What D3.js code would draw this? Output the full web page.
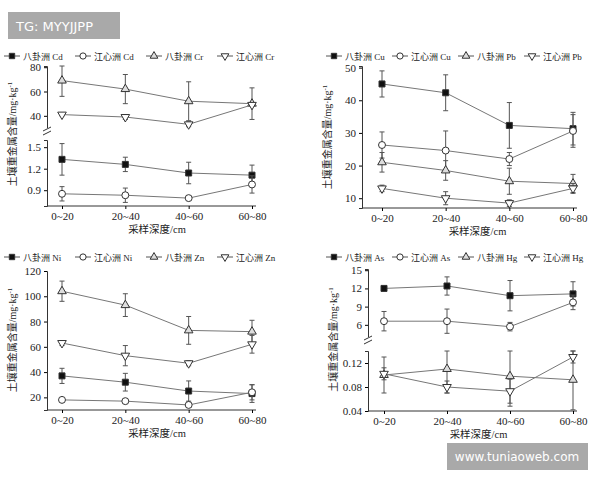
<!DOCTYPE html><html><head><meta charset="utf-8"><script src="https://cdn.jsdelivr.net/npm/d3@7"></script>
<style>body{margin:0;background:#fff}text{font-family:"Liberation Serif","Noto Sans CJK SC",serif;fill:#222}</style></head><body>
<svg id="c" width="600" height="480"></svg>
<script>
const categories=["0~20","20~40","40~60","60~80"];
// panel 1
const cdB=[1.33,1.26,1.14,1.11], cdBe=[0.22,0.10,0.15,0.14];
const cdJ=[0.85,0.83,0.79,0.98], cdJe=[0.10,0.10,0.02,0.12];
const crB=[69,62,52,50], crBe=[13,12,16,13];
const crJ=[41,39,33,49], crJe=[1,2,2,1];
// panel 2
const cuB=[45,42.3,32.3,31.3], cuBe=[4,5.5,7,5];
const cuJ=[26.3,24.6,22,30.6], cuJe=[4,6,2,5];
const pbB=[21,18.5,15.2,14.5], pbBe=[3,3,4,2.8];
const pbJ=[13,10,8.5,13], pbJe=[1,2,1,1.5];
// panel 3
const niB=[37,32,25,23], niBe=[6,7,8,7];
const niJ=[18,17,14,24], niJe=[1,1,2,6];
const znB=[104,93,73,72], znBe=[8,9,11,9];
const znJ=[63,53,47,62], znJe=[2,8,2,7];
// panel 4
const asB=[12,12.4,10.8,11.1], asBe=[0.4,1.5,2.5,2];
const asJ=[6.6,6.6,5.7,9.7], asJe=[1.6,2,0.7,1.2];
const hgB=[0.100,0.110,0.098,0.092], hgBe=[0.03,0.04,0.05,0.05];
const hgJ=[0.102,0.080,0.073,0.130], hgJe=[0.01,0.01,0.02,0.01];

const svg=d3.select("#c");
const sym={sq:d3.symbolSquare,ci:d3.symbolCircle,tu:d3.symbolTriangle,td:d3.symbolTriangle};
const fills={sq:"#111",ci:"#fff",tu:"#ddd",td:"#fff"};
function marker(g,t,x,y,k){
  k=k||1;
  g.append("path").attr("d",d3.symbol(sym[t],k*(t=="sq"?36:t=="ci"?38:32))()).attr("transform",`translate(${x},${y})${t=="td"?" rotate(180)":""}`)
   .attr("fill",fills[t]).attr("stroke","#333").attr("stroke-width",1);
}
function panel(o){
  const g=svg.append("g");
  const x=d3.scalePoint().domain(categories).range(o.xr);
  o.segs.forEach(s=>{
    const y=d3.scaleLinear().domain(s.dom).range(s.rng);
    g.append("g").attr("transform",`translate(${o.ax},0)`).call(d3.axisLeft(y).tickValues(s.ticks).tickSize(3).tickFormat(s.fmt||d3.format("")))
     .call(a=>{a.select(".domain").attr("stroke","#333");a.selectAll("text").style("font-size","11px").attr("fill","#333");});
    s.series.forEach(se=>{
      const sg=g.append("g");
      sg.append("path").datum(se.v).attr("fill","none").attr("stroke","#777").attr("stroke-width",1)
        .attr("d",d3.line().x((d,i)=>x(categories[i])).y(d=>y(d)));
      se.v.forEach((d,i)=>{
        const cx=x(categories[i]);
        const lo=Math.max(d-se.e[i],s.dom[0]),hi=Math.min(d+se.e[i],s.dom[1]);
        sg.append("line").attr("x1",cx).attr("x2",cx).attr("y1",y(lo)).attr("y2",y(hi)).attr("stroke","#555");
        [lo,hi].forEach(vv=>sg.append("line").attr("x1",cx-2.5).attr("x2",cx+2.5).attr("y1",y(vv)).attr("y2",y(vv)).attr("stroke","#555"));
      });
      se.v.forEach((d,i)=>marker(sg,se.t,x(categories[i]),y(d)));
    });
  });
  if(o.brk){g.append("rect").attr("x",o.ax-4).attr("y",o.brk-3).attr("width",8).attr("height",6).attr("fill","#fff");
    [-2,2].forEach(dd=>g.append("line").attr("x1",o.ax-4).attr("x2",o.ax+4).attr("y1",o.brk+dd+2).attr("y2",o.brk+dd-2).attr("stroke","#333"));}
  g.append("g").attr("transform",`translate(0,${o.bot})`).call(d3.axisBottom(x).tickSize(3).tickSizeOuter(0))
   .call(a=>{a.select(".domain").attr("d",`M${o.ax},0H${o.xr[1]+4}`).attr("stroke","#333");a.selectAll("text").style("font-size","11px").attr("fill","#333");});
  g.append("text").attr("x",(o.xr[0]+o.xr[1])/2).attr("y",o.bot+27).attr("text-anchor","middle").style("font-size","10.5px").text("采样深度/cm");
  g.append("text").attr("transform",`translate(${o.ax-31},${(o.top+o.bot)/2}) rotate(-90)`).attr("text-anchor","middle").style("font-size","10px")
   .text("土壤重金属含量/mg·kg").append("tspan").attr("dy",-4).style("font-size","7px").text("-1");
  o.leg.forEach((l,i)=>{
    const lx=o.lx+i*o.lstep, ly=o.ly;
    g.append("line").attr("x1",lx).attr("x2",lx+16).attr("y1",ly).attr("y2",ly).attr("stroke","#555");
    marker(g,l[1],lx+8,ly,0.8);
    g.append("text").attr("x",lx+19).attr("y",ly+3.5).style("font-size","9px").text(l[0]);
  });
}
panel({ax:47,xr:[62,252],bot:206,top:62,brk:131,lx:4,lstep:71,ly:56,
  leg:[["八卦洲 Cd","sq"],["江心洲 Cd","ci"],["八卦洲 Cr","tu"],["江心洲 Cr","td"]],
  segs:[{dom:[27.5,81],rng:[131,66],ticks:[40,60,80],series:[{v:crB,e:crBe,t:"tu"},{v:crJ,e:crJe,t:"td"}]},
        {dom:[0.68,1.6],rng:[206,140],ticks:[0.9,1.2,1.5],fmt:d3.format(".1f"),series:[{v:cdB,e:cdBe,t:"sq"},{v:cdJ,e:cdJe,t:"ci"}]}]});
panel({ax:362,xr:[382,573],bot:208,top:66,lx:326,lstep:66,ly:56,
  leg:[["八卦洲 Cu","sq"],["江心洲 Cu","ci"],["八卦洲 Pb","tu"],["江心洲 Pb","td"]],
  segs:[{dom:[7,50.5],rng:[208,66],ticks:[10,20,30,40,50],series:[{v:cuB,e:cuBe,t:"sq"},{v:cuJ,e:cuJe,t:"ci"},{v:pbB,e:pbBe,t:"tu"},{v:pbJ,e:pbJe,t:"td"}]}]});
panel({ax:47,xr:[62,252],bot:410,top:270,lx:4,lstep:71,ly:257,
  leg:[["八卦洲 Ni","sq"],["江心洲 Ni","ci"],["八卦洲 Zn","tu"],["江心洲 Zn","td"]],
  segs:[{dom:[10,120],rng:[410,271],ticks:[20,40,60,80,100,120],series:[{v:znB,e:znBe,t:"tu"},{v:znJ,e:znJe,t:"td"},{v:niB,e:niBe,t:"sq"},{v:niJ,e:niJe,t:"ci"}]}]});
panel({ax:368,xr:[384,573],bot:411,top:268,brk:340,lx:326,lstep:66,ly:257,
  leg:[["八卦洲 As","sq"],["江心洲 As","ci"],["八卦洲 Hg","tu"],["江心洲 Hg","td"]],
  segs:[{dom:[3.5,15.2],rng:[340,269],ticks:[6,9,12,15],series:[{v:asB,e:asBe,t:"sq"},{v:asJ,e:asJe,t:"ci"}]},
        {dom:[0.04,0.14],rng:[411,351],ticks:[0.04,0.08,0.12],fmt:d3.format(".2f"),series:[{v:hgB,e:hgBe,t:"tu"},{v:hgJ,e:hgJe,t:"td"}]}]});
svg.append("rect").attr("x",8).attr("y",12).attr("width",112).attr("height",27).attr("fill","#a9a9a9");
svg.append("text").attr("x",16).attr("y",31).style("font-family","DejaVu Sans").style("font-size","13px").style("fill","#fff").text("TG: MYYJJPP");
svg.append("rect").attr("x",447).attr("y",443).attr("width",141).attr("height",27).attr("fill","#a9a9a9");
svg.append("text").attr("x",517).attr("y",461).attr("text-anchor","middle").style("font-family","DejaVu Sans").style("font-size","12px").style("fill","#fff").text("www.tuniaoweb.com");
</script></body></html>
